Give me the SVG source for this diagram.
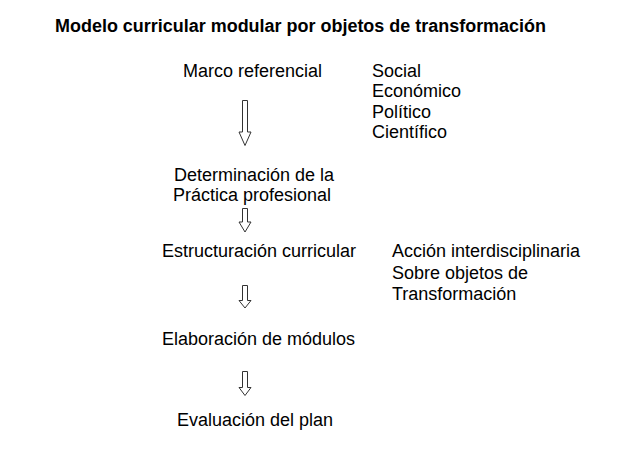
<svg xmlns="http://www.w3.org/2000/svg" width="640" height="452" viewBox="0 0 640 452">
<style>
text{font-family:"Liberation Sans",Arial,sans-serif;fill:#000}
.t{font-size:17.5px;font-weight:bold}
.b{font-size:18px}
.arr{fill:#fff;stroke:#333;stroke-width:1}
</style>
<rect width="640" height="452" fill="#fff"/>
<text id="title" class="t" x="55" y="31.5" textLength="491" lengthAdjust="spacingAndGlyphs">Modelo curricular modular por objetos de transformación</text>
<g id="marco"><text class="b" x="183" y="77">Marco referencial</text></g>
<g id="aspectos"><text class="b" x="372" y="77">Social</text><text class="b" x="372" y="97.3">Económico</text><text class="b" x="372" y="117.6">Político</text><text class="b" x="372" y="137.9">Científico</text></g>
<g id="determinacion"><text class="b" x="174" y="181">Determinación de la</text><text class="b" x="173" y="201">Práctica profesional</text></g>
<g id="estructuracion"><text class="b" x="162" y="257">Estructuración curricular</text></g>
<g id="accion"><text class="b" x="392" y="257">Acción interdisciplinaria</text><text class="b" x="392" y="278.5">Sobre objetos de</text><text class="b" x="392" y="300">Transformación</text></g>
<g id="elaboracion"><text class="b" x="162" y="345">Elaboración de módulos</text></g>
<g id="evaluacion"><text class="b" x="177" y="426">Evaluación del plan</text></g>
<g id="connectors">
<path class="arr" d="M242.5,100.5 H247.5 V132 H251 L245,145.5 L239,132 H242.5 Z"/>
<path class="arr" d="M242.5,208.5 H247.5 V222 H251 L245,232 L239,222 H242.5 Z"/>
<path class="arr" d="M242.5,285.5 H247.5 V300.5 H251 L245,308 L239,300.5 H242.5 Z"/>
<path class="arr" d="M242.5,371.5 H247.5 V387.5 H251 L245,395.5 L239,387.5 H242.5 Z"/>
</g>
</svg>
